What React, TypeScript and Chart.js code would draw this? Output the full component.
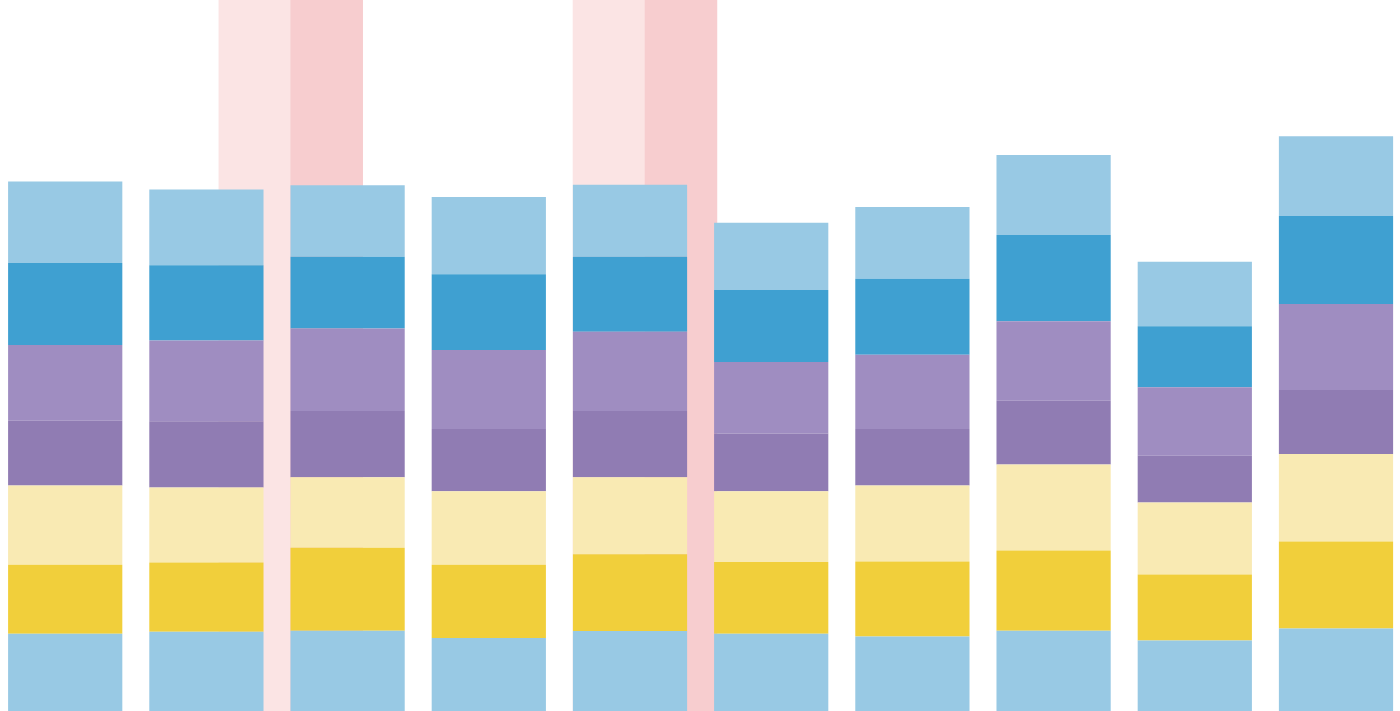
import React, { useEffect, useRef } from "react";
import { Chart, registerables } from "chart.js";

Chart.register(...registerables);

// ten stacked columns, no visible labels
const categories = ["1", "2", "3", "4", "5", "6", "7", "8", "9", "10"];

// segment values, bottom to top
const baseBlue = [10.86, 11.13, 11.29, 10.28, 11.24, 10.86, 10.49, 11.29, 9.92, 11.6];
const gold = [9.7, 9.76, 11.66, 10.28, 10.82, 10.08, 10.55, 11.28, 9.27, 12.25];
const paleGold = [11.14, 10.55, 9.92, 10.34, 10.82, 9.96, 10.66, 12.1, 10.13, 12.29];
const deepPurple = [9.11, 9.32, 9.32, 8.75, 9.32, 8.12, 7.95, 8.96, 6.58, 9.02];
const lavender = [10.66, 11.35, 11.62, 11.14, 11.14, 10.07, 10.45, 11.18, 9.65, 12.1];
const midBlue = [11.55, 10.6, 10.07, 10.65, 10.55, 10.13, 10.7, 12.14, 8.58, 12.35];
const topBlue = [11.46, 10.65, 10.07, 10.87, 10.13, 9.44, 10.07, 11.24, 9.07, 11.24];

// highlight bands behind the columns (position along the category index)
const highlightAt = [1.343, 1.852, 3.851, 4.361];
const highlightValue = [100, 100, 100, 100];
const highlightColors = ["#FBE4E4", "#F7CDCF", "#FBE4E4", "#F7CDCF"];

const series = [
  { label: "Base", data: baseBlue, color: "#98C9E4" },
  { label: "Gold", data: gold, color: "#F1CF3B" },
  { label: "Pale gold", data: paleGold, color: "#F9EAB3" },
  { label: "Deep purple", data: deepPurple, color: "#907CB3" },
  { label: "Lavender", data: lavender, color: "#9F8DC1" },
  { label: "Blue", data: midBlue, color: "#3FA0D1" },
  { label: "Top", data: topBlue, color: "#98C9E4" },
];

const hiddenLinear = () => ({
  type: "linear" as const,
  display: false,
  offset: false,
  min: -0.4618,
  max: 9.4533,
  stacked: true,
  grid: { offset: false },
  ticks: { stepSize: 1, includeBounds: false },
});

const App: React.FC = () => {
  const canvasRef = useRef<HTMLCanvasElement | null>(null);
  const chartRef = useRef<Chart | null>(null);

  useEffect(() => {
    if (!canvasRef.current) return;
    if (chartRef.current) chartRef.current.destroy();

    chartRef.current = new Chart(canvasRef.current, {
      type: "bar",
      data: {
        labels: categories,
        datasets: [
          ...series.map((s) => ({
            label: s.label,
            data: s.data.map((v, i) => ({ x: i, y: v })),
            backgroundColor: s.color,
            borderWidth: 0,
            grouped: false,
            categoryPercentage: 1,
            barPercentage: 0.809,
            xAxisID: "x",
            order: 0,
          })),
          {
            label: "Highlight",
            data: highlightAt.map((x, i) => ({ x, y: highlightValue[i] })),
            backgroundColor: highlightColors,
            borderWidth: 0,
            grouped: false,
            categoryPercentage: 1,
            barPercentage: 1,
            xAxisID: "x2",
            order: 1,
          },
        ],
      },
      options: {
        animation: false,
        responsive: true,
        maintainAspectRatio: false,
        layout: { padding: 0 },
        scales: {
          x: hiddenLinear(),
          x2: hiddenLinear(),
          y: { display: false, min: 0, max: 100, stacked: true },
        },
        plugins: {
          legend: { display: false },
          tooltip: { enabled: false },
        },
      },
    });

    return () => {
      if (chartRef.current) {
        chartRef.current.destroy();
        chartRef.current = null;
      }
    };
  }, []);

  return (
    <div
      style={{
        position: "fixed",
        left: 0,
        top: 0,
        width: 1400,
        height: 711,
        background: "#fff",
      }}
    >
      <canvas ref={canvasRef} />
    </div>
  );
};

export default App;
